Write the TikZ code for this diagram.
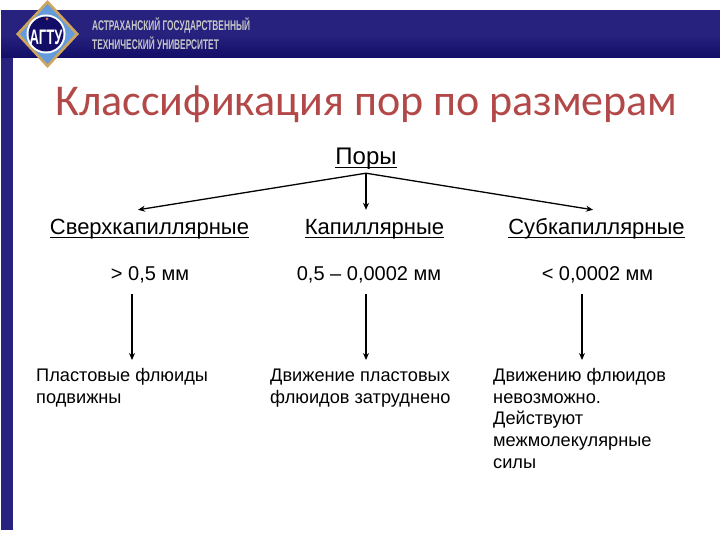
\documentclass[tikz,border=0pt]{standalone}
\usepackage{fontspec}
\setmainfont{Liberation Sans}
\newfontfamily\titlefont{Carlito}
\newfontfamily\headfont[FakeStretch=0.594]{Liberation Sans Bold}
\newfontfamily\logofont[FakeStretch=0.62]{Liberation Sans Bold}
\usetikzlibrary{arrows.meta,shapes,positioning}
\definecolor{astrblue}{RGB}{38,34,125}
\definecolor{astrdark}{RGB}{18,14,104}
\definecolor{titlered}{RGB}{178,72,72}
\definecolor{logoblue}{RGB}{100,155,220}
\definecolor{logogold}{RGB}{205,165,95}
\newcommand{\poreul}[1]{\setbox0\hbox{#1}\rlap{\rule[-3.4pt]{\wd0}{1.1pt}}\box0}
\tikzset{
    classlabel/.style={inner sep=0pt, anchor=base, text height=25pt, text depth=7pt, font=\fontsize{22}{26}\selectfont},
    sizelabel/.style={inner sep=0pt, anchor=base, text height=15pt, text depth=14pt, font=\fontsize{20}{24}\selectfont},
    flulabel/.style={inner xsep=0pt, inner ysep=5.6pt, anchor=north west, font=\fontsize{18.2}{21.9}\selectfont},
    headtext/.style={inner sep=0pt, anchor=west, text=black!22, font=\fontsize{14}{14}\headfont},
    porearrow/.style={line width=1.3pt, -{Stealth[length=7pt,width=6pt]}}
}
\begin{document}
\begin{tikzpicture}[x=1pt,y=-1pt]
    \useasboundingbox (0,0) rectangle (720,540);
    % header band and side strip
    \fill[astrblue] (1,530) rectangle (13,58);
    \shade[top color=astrblue, bottom color=astrdark, middle color=astrblue] (1,11) rectangle (720,58);
    % logo
    \fill[logogold] (47.5,0) -- (79,34) -- (47.5,68) -- (16,34) -- cycle;
    \fill[logoblue] (47.5,4) -- (75,34) -- (47.5,64) -- (20,34) -- cycle;
    \fill[white] (46,34) circle (19.5);
    \fill[astrdark] (46,34) circle (17.5);
    \fill[logogold!70!red] (47,19) circle (1.5);
    \node[inner sep=0pt, text=white, font=\fontsize{21}{21}\logofont] (logotext) at (46,37) {АГТУ};
    \node[headtext] (headone) at (92,26) {АСТРАХАНСКИЙ ГОСУДАРСТВЕННЫЙ};
    \node[headtext] (headtwo) at (92,43) {ТЕХНИЧЕСКИЙ УНИВЕРСИТЕТ};
    % title
    \node[inner sep=0pt, anchor=base, text=titlered, font=\fontsize{44}{48}\titlefont] (title) at (366.5,116) {Классификация пор по размерам};
    % tree
    \node[classlabel, text height=18pt, text depth=8pt, font=\fontsize{24}{28}\selectfont] (pory) at (366,165) {\poreul{Поры}};
    \node[classlabel] (sverh) at (149.5,235) {\poreul{Сверхкапиллярные}};
    \node[classlabel] (kap) at (374.5,235) {\poreul{Капиллярные}};
    \node[classlabel] (sub) at (596.5,235) {\poreul{Субкапиллярные}};
    \node[sizelabel] (sizeone) at (150,280) {> 0,5 мм};
    \node[sizelabel] (sizetwo) at (369,280) {0,5 – 0,0002 мм};
    \node[sizelabel] (sizethree) at (597.5,280) {< 0,0002 мм};
    \node[flulabel] (fluone) at (36,360) {
        \begin{tabular}{@{}l@{}}
            Пластовые флюиды\\
            подвижны
        \end{tabular}
    };
    \node[flulabel] (flutwo) at (270,360) {
        \begin{tabular}{@{}l@{}}
            Движение пластовых\\
            флюидов затруднено
        \end{tabular}
    };
    \node[flulabel] (fluthree) at (493,360) {
        \begin{tabular}{@{}l@{}}
            Движению флюидов\\
            невозможно.\\
            Действуют\\
            межмолекулярные\\
            силы
        \end{tabular}
    };
    \draw[porearrow] (pory.south) -- ([xshift=-11.5pt]sverh.north);
    \draw[porearrow] (pory.south) -- ([xshift=-8.5pt]kap.north);
    \draw[porearrow] (pory.south) -- ([xshift=-3.5pt]sub.north);
    \coordinate (startone) at ([xshift=-18pt]sizeone.south);
    \coordinate (starttwo) at ([xshift=-3pt]sizetwo.south);
    \coordinate (startthree) at ([xshift=-15.5pt]sizethree.south);
    \draw[porearrow] (startone) -- (startone |- fluone.north);
    \draw[porearrow] (starttwo) -- (starttwo |- flutwo.north);
    \draw[porearrow] (startthree) -- (startthree |- fluthree.north);
\end{tikzpicture}
\end{document}
